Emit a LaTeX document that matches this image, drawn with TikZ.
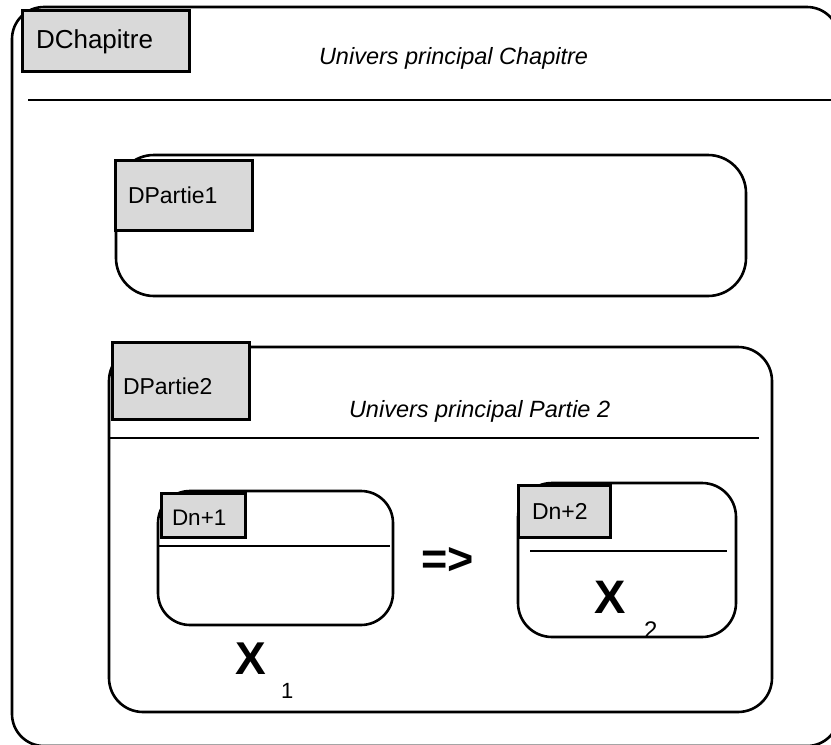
\documentclass[tikz,border=0pt]{standalone}
\usepackage{fontspec}
\setmainfont{Liberation Sans}
\newcommand{\fsz}[1]{\fontsize{#1}{#1}\selectfont}
\begin{document}
\begin{tikzpicture}[x=1pt,y=-1pt,
  frame/.style={draw=black, line width=2.6pt, inner sep=0pt, outer sep=0pt, anchor=north west, fill=none},
  lbl/.style={draw=black, line width=3pt, fill=black!15, inner sep=0pt, outer sep=0pt, anchor=north west},
  txt/.style={inner sep=0pt, outer sep=0pt, anchor=base west},
  sep/.style={line width=2.2pt}
]
\useasboundingbox (0,0) rectangle (831,745);
\clip (0,0) rectangle (831,745);

% outer chapter frame
\node[frame, rounded corners=32pt, minimum width=827pt, minimum height=739pt] (chap) at (12,7) {};
\coordinate (chL) at (28,100);
\coordinate (chR) at (845,100);
\draw[sep] (chL) -- (chR);
\node[lbl, minimum width=167pt, minimum height=61pt] (lchap) at (22,10) {};
\node[txt, font=\fsz{26}] (tchap) at (36,48) {DChapitre};
\node[txt, font=\fsz{23.5}\itshape] (uchap) at (319,64) {Univers principal Chapitre};

% Partie 1
\node[frame, rounded corners=38pt, minimum width=630pt, minimum height=141pt] (p1) at (116,155) {};
\node[lbl, minimum width=137pt, minimum height=70pt] (lp1) at (115,160) {};
\node[txt, font=\fsz{23}] (tp1) at (128,203) {DPartie1};

% Partie 2
\node[frame, rounded corners=34pt, minimum width=663pt, minimum height=365pt] (p2) at (109,347) {};
\node[lbl, minimum width=137pt, minimum height=77pt] (lp2) at (112,342) {};
\node[txt, font=\fsz{23}] (tp2) at (123,394) {DPartie2};
\node[txt, font=\fsz{23.5}\itshape] (up2) at (349,417) {Univers principal Partie 2};
\coordinate (p2L) at (109,438);
\coordinate (p2R) at (759,438);
\draw[sep] (p2L) -- (p2R);

% Dn+1
\node[frame, rounded corners=32pt, minimum width=235pt, minimum height=134pt] (d1) at (158,491) {};
\node[lbl, minimum width=84pt, minimum height=44pt] (ld1) at (161,493) {};
\node[txt, font=\fsz{22.5}] (td1) at (172,525) {Dn+1};
\coordinate (d1L) at (158,546);
\coordinate (d1R) at (390,546);
\draw[sep] (d1L) -- (d1R);
\node[txt, font=\fsz{46}\bfseries] (x1) at (235,674) {X};
\node[txt, font=\fsz{22}] (s1) at (281,698) {1};

% arrow text
\node[txt, font=\fsz{45}\bfseries] (impl) at (421,574) {=>};

% Dn+2
\node[frame, rounded corners=34pt, minimum width=218pt, minimum height=154pt] (d2) at (518,483) {};
\node[lbl, minimum width=92pt, minimum height=52pt] (ld2) at (518,485) {};
\node[txt, font=\fsz{23}] (td2) at (532,519) {Dn+2};
\coordinate (d2L) at (530,551);
\coordinate (d2R) at (727,551);
\draw[sep] (d2L) -- (d2R);
\node[txt, font=\fsz{47}\bfseries] (x2) at (594,613) {X};
\node[txt, font=\fsz{24}] (s2) at (644,638) {2};
\end{tikzpicture}
\end{document}
